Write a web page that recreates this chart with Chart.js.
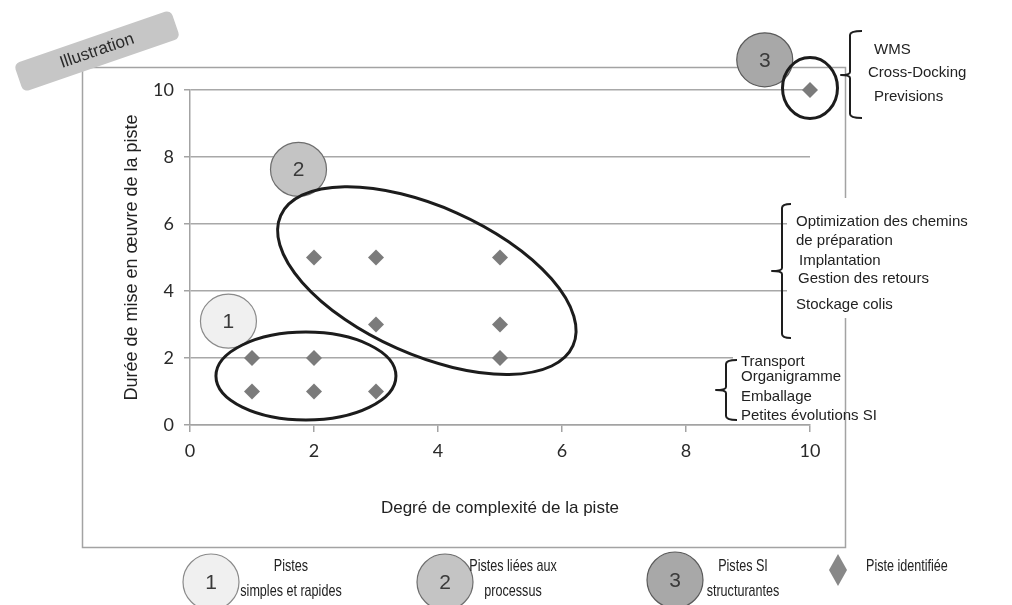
<!DOCTYPE html>
<html>
<head>
<meta charset="utf-8">
<script src="https://cdn.jsdelivr.net/npm/chart.js@4.4.0/dist/chart.umd.min.js"></script>
<style>
  html, body { margin: 0; padding: 0; background: #ffffff; }
  #wrap { position: relative; width: 1012px; height: 605px; }
  canvas { display: block; }
</style>
</head>
<body>
<div id="wrap"><canvas id="c" width="1012" height="605"></canvas></div>
<script>
// ---- Data ----
const group1X = [1, 1, 2, 2, 3];
const group1Y = [2, 1, 2, 1, 1];
const group2X = [2, 3, 5, 3, 5, 5];
const group2Y = [5, 5, 5, 3, 3, 2];
const group3X = [10];
const group3Y = [10];
const xTickLabels = [0, 2, 4, 6, 8, 10];
const yTickLabels = [0, 2, 4, 6, 8, 10];
const xAxisTitle = 'Degré de complexité de la piste';
const yAxisTitle = 'Durée de mise en œuvre de la piste';
const bracket3Lines = ['WMS', 'Cross-Docking', 'Previsions'];
const bracket2Lines = ['Optimization des chemins', 'de préparation', 'Implantation', 'Gestion des retours', 'Stockage colis'];
const bracket1Lines = ['Transport', 'Organigramme', 'Emballage', 'Petites évolutions SI'];
const legendNumbers = ['1', '2', '3'];
const legendLabels = [['Pistes', 'simples et rapides'], ['Pistes liées aux', 'processus'], ['Pistes SI', 'structurantes']];
const legendPointLabel = 'Piste identifiée';
const tabLabel = 'Illustration';

function toPoints(xs, ys) { return xs.map((x, i) => ({ x: x, y: ys[i] })); }

const POINT_COLOR = '#7b7b7b';
const SANS = '"Liberation Sans", Arial, sans-serif';
const TICKFONT = 'Lato, "Open Sans", sans-serif';

function txt(ctx, s, x, y, size, align, color, sx) {
  ctx.save();
  ctx.font = size + 'px ' + SANS;
  ctx.fillStyle = color || '#222';
  ctx.textBaseline = 'middle';
  ctx.textAlign = align || 'left';
  ctx.translate(x, y);
  ctx.scale(sx || 1, 1);
  ctx.fillText(s, 0, 0);
  ctx.restore();
}

function ellipse(ctx, cx, cy, rx, ry, rot, fill, stroke, lw) {
  ctx.save();
  ctx.beginPath();
  ctx.ellipse(cx, cy, rx, ry, rot, 0, Math.PI * 2);
  if (fill) { ctx.fillStyle = fill; ctx.fill(); }
  if (stroke) { ctx.strokeStyle = stroke; ctx.lineWidth = lw; ctx.stroke(); }
  ctx.restore();
}

function bracket(ctx, xv, top, bottom, mid, serif, pointer) {
  ctx.save();
  ctx.strokeStyle = '#1e1e1e';
  ctx.lineWidth = 2;
  ctx.lineJoin = 'round';
  ctx.beginPath();
  ctx.moveTo(xv + serif, top);
  ctx.quadraticCurveTo(xv, top, xv, top + 4);
  ctx.lineTo(xv, mid - 3);
  ctx.quadraticCurveTo(xv, mid, xv - pointer, mid);
  ctx.quadraticCurveTo(xv, mid, xv, mid + 3);
  ctx.lineTo(xv, bottom - 4);
  ctx.quadraticCurveTo(xv, bottom, xv + serif, bottom);
  ctx.stroke();
  ctx.restore();
}

function numCircle(ctx, cx, cy, rx, ry, fill, stroke, label) {
  ellipse(ctx, cx, cy, rx, ry, 0, fill, stroke, 1.2);
  txt(ctx, label, cx, cy + 1, 21, 'center', '#3a3a3a');
}

const annotations = {
  id: 'annotations',
  beforeDraw(chart) {
    const ctx = chart.ctx;
    ctx.save();
    ctx.fillStyle = '#ffffff';
    ctx.fillRect(0, 0, chart.width, chart.height);
    ctx.strokeStyle = '#a3a3a3';
    ctx.lineWidth = 1.5;
    ctx.strokeRect(82.5, 67.5, 763, 480);
    ctx.restore();
  },
  afterDraw(chart) {
    const ctx = chart.ctx;
    const xs = chart.scales.x, ys = chart.scales.y;
    const px = v => xs.getPixelForValue(v);
    const py = v => ys.getPixelForValue(v);

    // white backgrounds of the text boxes
    ctx.save();
    ctx.fillStyle = '#ffffff';
    ctx.fillRect(787, 198, 195, 120);
    ctx.fillRect(733, 350, 79, 70);
    ctx.restore();

    // numbered circles (behind ellipses)
    numCircle(ctx, px(0.62), py(3.10), 28, 27, '#f0f0f0', '#8a8a8a', '1');
    numCircle(ctx, px(1.75), py(7.63), 28, 27, '#c4c4c4', '#6e6e6e', '2');
    numCircle(ctx, px(9.27), py(10.9), 28, 27, '#a8a8a8', '#5a5a5a', '3');

    // group ellipses
    ellipse(ctx, px(1.87), py(1.46), 90, 44, 0, null, '#1c1c1c', 3);
    ellipse(ctx, px(3.82), py(4.31), 160, 74, 24 * Math.PI / 180, null, '#1c1c1c', 3);
    ellipse(ctx, px(10), py(10.06), 27.5, 30.5, 0, null, '#1c1c1c', 3);

    // brackets
    bracket(ctx, 850, 31, 118, 75, 12, 9);
    bracket(ctx, 782, 204, 338, 271, 9, 10);
    bracket(ctx, 726, 360, 420, 390, 11, 10);

    // bracket texts
    const b3 = [[874, 50], [868, 73], [874, 97]];
    bracket3Lines.forEach((s, i) => txt(ctx, s, b3[i][0], b3[i][1], 15, 'left', '#222'));
    const b2 = [[796, 222], [796, 241], [799, 261], [798, 279], [796, 305]];
    bracket2Lines.forEach((s, i) => txt(ctx, s, b2[i][0], b2[i][1], 15, 'left', '#222'));
    const b1 = [[741, 362], [741, 377], [741, 397], [741, 416]];
    bracket1Lines.forEach((s, i) => txt(ctx, s, b1[i][0], b1[i][1], 15, 'left', '#222'));

    // Illustration tab
    ctx.save();
    ctx.translate(97, 51);
    ctx.rotate(-19 * Math.PI / 180);
    ctx.beginPath();
    ctx.roundRect(-83, -15, 166, 30, 6);
    ctx.fillStyle = '#c6c6c6';
    ctx.fill();
    ctx.restore();
    ctx.save();
    ctx.translate(97, 51);
    ctx.rotate(-19 * Math.PI / 180);
    txt(ctx, tabLabel, 0, 0, 17, 'center', '#2a2a2a');
    ctx.restore();

    // bottom legend
    const lc = [[211, 582, '#f0f0f0', '#8a8a8a'], [445, 582, '#c4c4c4', '#6e6e6e'], [675, 580, '#a8a8a8', '#5a5a5a']];
    const lt = [291, 513, 743];
    legendNumbers.forEach((n, i) => {
      numCircle(ctx, lc[i][0], lc[i][1], 28, 28, lc[i][2], lc[i][3], n);
      txt(ctx, legendLabels[i][0], lt[i], 566, 17, 'center', '#222', 0.74);
      txt(ctx, legendLabels[i][1], lt[i], 591, 17, 'center', '#222', 0.74);
    });
    ctx.save();
    ctx.beginPath();
    ctx.moveTo(838, 554); ctx.lineTo(847, 570); ctx.lineTo(838, 586); ctx.lineTo(829, 570);
    ctx.closePath();
    ctx.fillStyle = '#888888';
    ctx.fill();
    ctx.restore();
    txt(ctx, legendPointLabel, 866, 566, 17, 'left', '#222', 0.74);
  }
};

const pointStyle = {
  pointStyle: 'rectRot',
  pointRadius: 8,
  pointHoverRadius: 8,
  backgroundColor: POINT_COLOR,
  borderColor: POINT_COLOR,
  borderWidth: 0,
  showLine: false,
  clip: false
};

new Chart(document.getElementById('c'), {
  type: 'scatter',
  data: {
    datasets: [
      Object.assign({ label: 'Pistes simples et rapides', data: toPoints(group1X, group1Y) }, pointStyle),
      Object.assign({ label: 'Pistes liées aux processus', data: toPoints(group2X, group2Y) }, pointStyle),
      Object.assign({ label: 'Pistes SI structurantes', data: toPoints(group3X, group3Y) }, pointStyle)
    ]
  },
  options: {
    responsive: false,
    devicePixelRatio: 1,
    animation: false,
    events: [],
    layout: { padding: { left: 110, top: 90, right: 202, bottom: 70 } },
    plugins: { legend: { display: false }, tooltip: { enabled: false } },
    scales: {
      x: {
        type: 'linear',
        min: 0, max: 10,
        afterFit: s => { s.height = 110; },
        afterBuildTicks: s => { s.ticks = xTickLabels.map(v => ({ value: v })); },
        ticks: { color: '#2a2a2a', font: { family: TICKFONT, size: 18 }, padding: 8 },
        grid: { drawOnChartArea: false, color: '#a3a3a3', tickColor: '#a3a3a3', tickLength: 7, lineWidth: 1.5 },
        border: { color: '#a3a3a3', width: 1.5 },
        title: { display: true, text: xAxisTitle, color: '#222', font: { family: SANS, size: 17 }, padding: { top: 0, bottom: 16 } }
      },
      y: {
        type: 'linear',
        min: 0, max: 10,
        afterFit: s => { s.width = 80; },
        afterBuildTicks: s => { s.ticks = yTickLabels.map(v => ({ value: v })); },
        ticks: { color: '#2a2a2a', font: { family: TICKFONT, size: 18 }, padding: 10 },
        grid: { color: '#a8a8a8', tickColor: '#a3a3a3', tickLength: 6, lineWidth: 1.5 },
        border: { color: '#a3a3a3', width: 1.5 },
        title: { display: true, text: yAxisTitle, color: '#222', font: { family: SANS, size: 18 }, padding: { top: 11, bottom: 0 } }
      }
    }
  },
  plugins: [annotations]
});
</script>
</body>
</html>
